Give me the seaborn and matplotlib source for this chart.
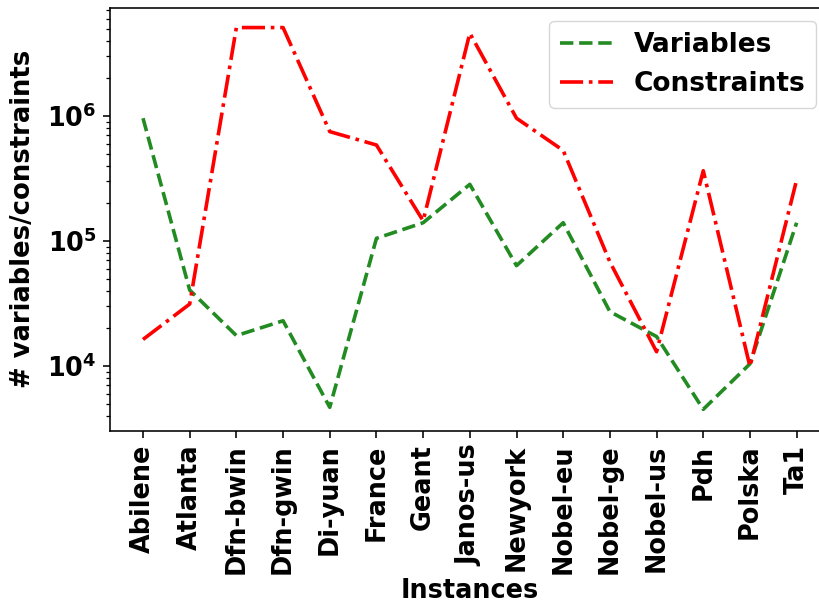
import matplotlib
matplotlib.use("Agg")
import matplotlib.pyplot as plt
import seaborn as sns
import numpy as np

instances = ["Abilene", "Atlanta", "Dfn-bwin", "Dfn-gwin", "Di-yuan", "France", "Geant",
             "Janos-us", "Newyork", "Nobel-eu", "Nobel-ge", "Nobel-us", "Pdh", "Polska", "Ta1"]
variables = [9.6e5, 4.05e4, 1.75e4, 2.3e4, 4.67e3, 1.05e5, 1.4e5,
             2.84e5, 6.35e4, 1.4e5, 2.72e4, 1.72e4, 4.5e3, 1.04e4, 1.4e5]
constraints = [1.63e4, 3.13e4, 5.1e6, 5.1e6, 7.5e5, 5.86e5, 1.45e5,
               4.6e6, 9.6e5, 5.3e5, 6.8e4, 1.3e4, 3.65e5, 9.9e3, 3.08e5]

sns.set_style("ticks")
plt.rcParams['font.family'] = ['DejaVu Sans']
plt.rcParams['font.weight'] = 'bold'
plt.rcParams['axes.labelweight'] = 'bold'
plt.rcParams['mathtext.default'] = 'bf'
plt.rcParams['text.color'] = 'black'
plt.rcParams['axes.labelcolor'] = 'black'
plt.rcParams['xtick.color'] = 'black'
plt.rcParams['ytick.color'] = 'black'
plt.rcParams['axes.edgecolor'] = 'black'

fig = plt.figure(figsize=(8.19, 6.07), dpi=100)
ax = fig.add_axes([0.1347, 0.2904, 0.8779, 0.6964])

sns.lineplot(x=instances, y=variables, ax=ax, color="forestgreen", linestyle="--",
             linewidth=2.6, label="Variables", sort=False)
sns.lineplot(x=instances, y=constraints, ax=ax, color="red", linestyle="-.",
             linewidth=2.6, label="Constraints", sort=False)

ax.set_yscale("log")
ax.set_ylim(10**3.482, 10**6.864)
ax.set_xlim(-0.7, 14.7)
ax.set_xlabel("Instances", fontsize=18.4, fontweight="bold", labelpad=2.5)
ax.set_ylabel("# variables/constraints", fontsize=18.6, fontweight="bold", labelpad=8)
ax.tick_params(axis="both", which="major", labelsize=18.4, length=5.0, width=1.15, pad=5.0)
ax.tick_params(axis="y", which="minor", length=2.9, width=0.9)
plt.setp(ax.get_xticklabels(), rotation=90, fontweight="bold")
plt.setp(ax.get_yticklabels(), fontweight="bold")
for s in ax.spines.values():
    s.set_linewidth(1.15)
leg = ax.legend(loc="upper right", prop={"size": 19, "weight": "bold"})

fig.savefig("out.png", dpi=100)
